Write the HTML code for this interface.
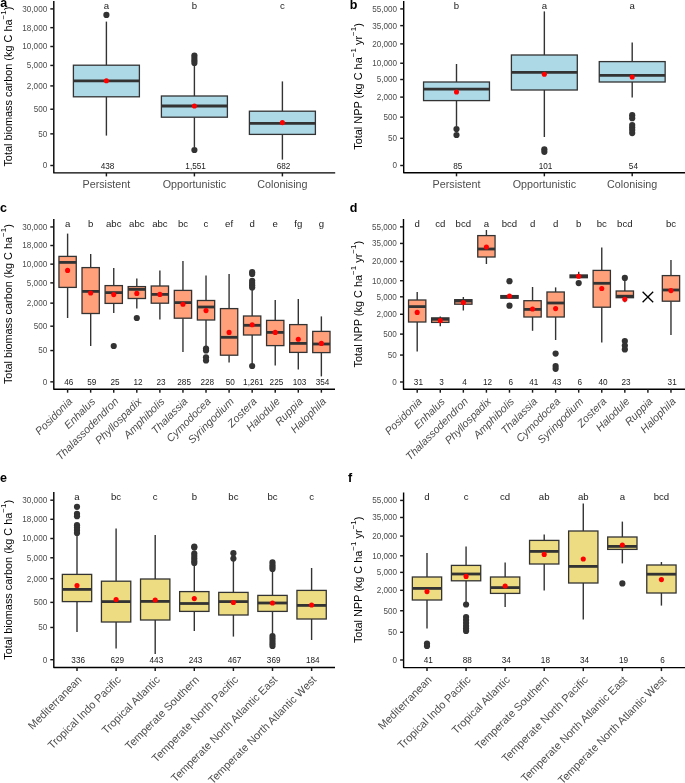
<!DOCTYPE html><html><head><meta charset="utf-8"><style>html,body{margin:0;padding:0;background:#fff;}svg{display:block;will-change:transform;}text{font-family:"Liberation Sans",sans-serif;}</style></head><body><svg width="685" height="783" viewBox="0 0 685 783"><rect width="685" height="783" fill="#fff"/><line x1="106.4" y1="21.6" x2="106.4" y2="65.2" stroke="#333333" stroke-width="1.4"/><line x1="106.4" y1="96.8" x2="106.4" y2="135.6" stroke="#333333" stroke-width="1.4"/><rect x="73.4" y="65.2" width="66" height="31.6" fill="#ADD8E6" stroke="#333333" stroke-width="1.3"/><line x1="73.4" y1="80.9" x2="139.4" y2="80.9" stroke="#333333" stroke-width="2.8"/><circle cx="106.4" cy="14.9" r="3.1" fill="#333333"/><circle cx="106.4" cy="80.8" r="2.55" fill="#FF0000"/><line x1="194.4" y1="66" x2="194.4" y2="96" stroke="#333333" stroke-width="1.4"/><line x1="194.4" y1="117.2" x2="194.4" y2="147" stroke="#333333" stroke-width="1.4"/><rect x="161.4" y="96" width="66" height="21.2" fill="#ADD8E6" stroke="#333333" stroke-width="1.3"/><line x1="161.4" y1="106" x2="227.4" y2="106" stroke="#333333" stroke-width="2.8"/><circle cx="194.4" cy="55.5" r="3.1" fill="#333333"/><circle cx="194.4" cy="58" r="3.1" fill="#333333"/><circle cx="194.4" cy="60.5" r="3.1" fill="#333333"/><circle cx="194.4" cy="62.9" r="3.1" fill="#333333"/><circle cx="194.4" cy="150" r="3.1" fill="#333333"/><circle cx="194.4" cy="106" r="2.55" fill="#FF0000"/><line x1="282.4" y1="81.4" x2="282.4" y2="111.2" stroke="#333333" stroke-width="1.4"/><line x1="282.4" y1="134.4" x2="282.4" y2="159.6" stroke="#333333" stroke-width="1.4"/><rect x="249.4" y="111.2" width="66" height="23.2" fill="#ADD8E6" stroke="#333333" stroke-width="1.3"/><line x1="249.4" y1="123.3" x2="315.4" y2="123.3" stroke="#333333" stroke-width="2.8"/><circle cx="282.4" cy="122.6" r="2.55" fill="#FF0000"/><path d="M53.8 1V172.9H335.2" fill="none" stroke="#000000" stroke-width="1.4" stroke-linejoin="round" stroke-linecap="butt"/><line x1="50.3" y1="165.5" x2="53.8" y2="165.5" stroke="#1a1a1a" stroke-width="1.45"/><text x="47.2" y="168.38" font-size="8.15" fill="#4D4D4D" text-anchor="end">0</text><line x1="50.3" y1="133.86" x2="53.8" y2="133.86" stroke="#1a1a1a" stroke-width="1.45"/><text x="47.2" y="136.73" font-size="8.15" fill="#4D4D4D" text-anchor="end">50</text><line x1="50.3" y1="109.23" x2="53.8" y2="109.23" stroke="#1a1a1a" stroke-width="1.45"/><text x="47.2" y="112.1" font-size="8.15" fill="#4D4D4D" text-anchor="end">500</text><line x1="50.3" y1="85.92" x2="53.8" y2="85.92" stroke="#1a1a1a" stroke-width="1.45"/><text x="47.2" y="88.8" font-size="8.15" fill="#4D4D4D" text-anchor="end">2,000</text><line x1="50.3" y1="65.43" x2="53.8" y2="65.43" stroke="#1a1a1a" stroke-width="1.45"/><text x="47.2" y="68.31" font-size="8.15" fill="#4D4D4D" text-anchor="end">5,000</text><line x1="50.3" y1="46.5" x2="53.8" y2="46.5" stroke="#1a1a1a" stroke-width="1.45"/><text x="47.2" y="49.38" font-size="8.15" fill="#4D4D4D" text-anchor="end">10,000</text><line x1="50.3" y1="27.66" x2="53.8" y2="27.66" stroke="#1a1a1a" stroke-width="1.45"/><text x="47.2" y="30.54" font-size="8.15" fill="#4D4D4D" text-anchor="end">18,000</text><line x1="50.3" y1="8.89" x2="53.8" y2="8.89" stroke="#1a1a1a" stroke-width="1.45"/><text x="47.2" y="11.76" font-size="8.15" fill="#4D4D4D" text-anchor="end">30,000</text><line x1="106.4" y1="172.9" x2="106.4" y2="176.4" stroke="#1a1a1a" stroke-width="1.45"/><line x1="194.4" y1="172.9" x2="194.4" y2="176.4" stroke="#1a1a1a" stroke-width="1.45"/><line x1="282.4" y1="172.9" x2="282.4" y2="176.4" stroke="#1a1a1a" stroke-width="1.45"/><text x="106.4" y="187.8" font-size="10.75" fill="#4D4D4D" text-anchor="middle">Persistent</text><text x="194.4" y="187.8" font-size="10.75" fill="#4D4D4D" text-anchor="middle">Opportunistic</text><text x="282.4" y="187.8" font-size="10.75" fill="#4D4D4D" text-anchor="middle">Colonising</text><text x="106.4" y="8.8" font-size="9.6" fill="#1A1A1A" text-anchor="middle">a</text><text x="194.4" y="8.8" font-size="9.6" fill="#1A1A1A" text-anchor="middle">b</text><text x="282.4" y="8.8" font-size="9.6" fill="#1A1A1A" text-anchor="middle">c</text><text x="107.6" y="168.6" font-size="8.2" fill="#1A1A1A" text-anchor="middle">438</text><text x="195.6" y="168.6" font-size="8.2" fill="#1A1A1A" text-anchor="middle">1,551</text><text x="283.6" y="168.6" font-size="8.2" fill="#1A1A1A" text-anchor="middle">682</text><text transform="translate(11.8 86.6) rotate(-90)" font-size="10.9" fill="#000" text-anchor="middle">Total biomass carbon (kg C ha<tspan font-size="8.1" dy="-5.9">−1</tspan><tspan dy="5.9">)</tspan></text><text x="0.3" y="6.6" font-size="12.5" font-weight="bold" fill="#000">a</text><line x1="456.5" y1="64" x2="456.5" y2="82" stroke="#333333" stroke-width="1.4"/><line x1="456.5" y1="100.6" x2="456.5" y2="126" stroke="#333333" stroke-width="1.4"/><rect x="423.56" y="82" width="65.89" height="18.6" fill="#ADD8E6" stroke="#333333" stroke-width="1.3"/><line x1="423.56" y1="89.2" x2="489.44" y2="89.2" stroke="#333333" stroke-width="2.8"/><circle cx="456.5" cy="129" r="3.1" fill="#333333"/><circle cx="456.5" cy="135" r="3.1" fill="#333333"/><circle cx="456.5" cy="92" r="2.55" fill="#FF0000"/><line x1="544.35" y1="11.4" x2="544.35" y2="55" stroke="#333333" stroke-width="1.4"/><line x1="544.35" y1="90" x2="544.35" y2="137" stroke="#333333" stroke-width="1.4"/><rect x="511.41" y="55" width="65.89" height="35" fill="#ADD8E6" stroke="#333333" stroke-width="1.3"/><line x1="511.41" y1="72.4" x2="577.29" y2="72.4" stroke="#333333" stroke-width="2.8"/><circle cx="544.35" cy="149.3" r="3.1" fill="#333333"/><circle cx="544.35" cy="151.8" r="3.1" fill="#333333"/><circle cx="544.35" cy="74.2" r="2.55" fill="#FF0000"/><line x1="632.2" y1="42.4" x2="632.2" y2="61.6" stroke="#333333" stroke-width="1.4"/><line x1="632.2" y1="82" x2="632.2" y2="97.6" stroke="#333333" stroke-width="1.4"/><rect x="599.26" y="61.6" width="65.89" height="20.4" fill="#ADD8E6" stroke="#333333" stroke-width="1.3"/><line x1="599.26" y1="75.4" x2="665.14" y2="75.4" stroke="#333333" stroke-width="2.8"/><circle cx="632.2" cy="115.2" r="3.1" fill="#333333"/><circle cx="632.2" cy="118.2" r="3.1" fill="#333333"/><circle cx="632.2" cy="125" r="3.1" fill="#333333"/><circle cx="632.2" cy="127.5" r="3.1" fill="#333333"/><circle cx="632.2" cy="130" r="3.1" fill="#333333"/><circle cx="632.2" cy="133.1" r="3.1" fill="#333333"/><circle cx="632.2" cy="77" r="2.55" fill="#FF0000"/><path d="M403.7 1V172.8H685" fill="none" stroke="#000000" stroke-width="1.4" stroke-linejoin="round" stroke-linecap="butt"/><line x1="400.2" y1="165.5" x2="403.7" y2="165.5" stroke="#1a1a1a" stroke-width="1.45"/><text x="397.1" y="168.38" font-size="8.15" fill="#4D4D4D" text-anchor="end">0</text><line x1="400.2" y1="138.31" x2="403.7" y2="138.31" stroke="#1a1a1a" stroke-width="1.45"/><text x="397.1" y="141.18" font-size="8.15" fill="#4D4D4D" text-anchor="end">50</text><line x1="400.2" y1="117.14" x2="403.7" y2="117.14" stroke="#1a1a1a" stroke-width="1.45"/><text x="397.1" y="120.02" font-size="8.15" fill="#4D4D4D" text-anchor="end">500</text><line x1="400.2" y1="97.11" x2="403.7" y2="97.11" stroke="#1a1a1a" stroke-width="1.45"/><text x="397.1" y="99.99" font-size="8.15" fill="#4D4D4D" text-anchor="end">2,000</text><line x1="400.2" y1="79.51" x2="403.7" y2="79.51" stroke="#1a1a1a" stroke-width="1.45"/><text x="397.1" y="82.39" font-size="8.15" fill="#4D4D4D" text-anchor="end">5,000</text><line x1="400.2" y1="63.24" x2="403.7" y2="63.24" stroke="#1a1a1a" stroke-width="1.45"/><text x="397.1" y="66.12" font-size="8.15" fill="#4D4D4D" text-anchor="end">10,000</text><line x1="400.2" y1="43.89" x2="403.7" y2="43.89" stroke="#1a1a1a" stroke-width="1.45"/><text x="397.1" y="46.77" font-size="8.15" fill="#4D4D4D" text-anchor="end">20,000</text><line x1="400.2" y1="25.63" x2="403.7" y2="25.63" stroke="#1a1a1a" stroke-width="1.45"/><text x="397.1" y="28.51" font-size="8.15" fill="#4D4D4D" text-anchor="end">35,000</text><line x1="400.2" y1="8.9" x2="403.7" y2="8.9" stroke="#1a1a1a" stroke-width="1.45"/><text x="397.1" y="11.77" font-size="8.15" fill="#4D4D4D" text-anchor="end">55,000</text><line x1="456.5" y1="172.8" x2="456.5" y2="176.3" stroke="#1a1a1a" stroke-width="1.45"/><line x1="544.35" y1="172.8" x2="544.35" y2="176.3" stroke="#1a1a1a" stroke-width="1.45"/><line x1="632.2" y1="172.8" x2="632.2" y2="176.3" stroke="#1a1a1a" stroke-width="1.45"/><text x="456.5" y="187.7" font-size="10.75" fill="#4D4D4D" text-anchor="middle">Persistent</text><text x="544.35" y="187.7" font-size="10.75" fill="#4D4D4D" text-anchor="middle">Opportunistic</text><text x="632.2" y="187.7" font-size="10.75" fill="#4D4D4D" text-anchor="middle">Colonising</text><text x="456.5" y="8.8" font-size="9.6" fill="#1A1A1A" text-anchor="middle">b</text><text x="544.35" y="8.8" font-size="9.6" fill="#1A1A1A" text-anchor="middle">a</text><text x="632.2" y="8.8" font-size="9.6" fill="#1A1A1A" text-anchor="middle">a</text><text x="457.7" y="168.6" font-size="8.2" fill="#1A1A1A" text-anchor="middle">85</text><text x="545.55" y="168.6" font-size="8.2" fill="#1A1A1A" text-anchor="middle">101</text><text x="633.4" y="168.6" font-size="8.2" fill="#1A1A1A" text-anchor="middle">54</text><text transform="translate(361.5 86.4) rotate(-90)" font-size="10.9" fill="#000" text-anchor="middle">Total NPP (kg C ha<tspan font-size="8.1" dy="-5.9">−1</tspan><tspan dy="5.9"> yr</tspan><tspan font-size="8.1" dy="-5.9">−1</tspan><tspan dy="5.9">)</tspan></text><text x="349.8" y="8.8" font-size="12.5" font-weight="bold" fill="#000">b</text><line x1="67.6" y1="233.6" x2="67.6" y2="256.4" stroke="#333333" stroke-width="1.4"/><line x1="67.6" y1="287.4" x2="67.6" y2="318" stroke="#333333" stroke-width="1.4"/><rect x="58.95" y="256.4" width="17.3" height="31" fill="#FFA07A" stroke="#333333" stroke-width="1.3"/><line x1="58.95" y1="262.4" x2="76.25" y2="262.4" stroke="#333333" stroke-width="2.8"/><circle cx="67.6" cy="270.4" r="2.55" fill="#FF0000"/><line x1="90.67" y1="254" x2="90.67" y2="267.6" stroke="#333333" stroke-width="1.4"/><line x1="90.67" y1="313.5" x2="90.67" y2="346" stroke="#333333" stroke-width="1.4"/><rect x="82.02" y="267.6" width="17.3" height="45.9" fill="#FFA07A" stroke="#333333" stroke-width="1.3"/><line x1="82.02" y1="291.4" x2="99.32" y2="291.4" stroke="#333333" stroke-width="2.8"/><circle cx="90.67" cy="293" r="2.55" fill="#FF0000"/><line x1="113.74" y1="268" x2="113.74" y2="285.6" stroke="#333333" stroke-width="1.4"/><line x1="113.74" y1="303.4" x2="113.74" y2="313" stroke="#333333" stroke-width="1.4"/><rect x="105.09" y="285.6" width="17.3" height="17.8" fill="#FFA07A" stroke="#333333" stroke-width="1.3"/><line x1="105.09" y1="292.6" x2="122.39" y2="292.6" stroke="#333333" stroke-width="2.8"/><circle cx="113.74" cy="346" r="3.1" fill="#333333"/><circle cx="113.74" cy="294.6" r="2.55" fill="#FF0000"/><line x1="136.81" y1="278.6" x2="136.81" y2="286.6" stroke="#333333" stroke-width="1.4"/><line x1="136.81" y1="298.5" x2="136.81" y2="308.5" stroke="#333333" stroke-width="1.4"/><rect x="128.16" y="286.6" width="17.3" height="11.9" fill="#FFA07A" stroke="#333333" stroke-width="1.3"/><line x1="128.16" y1="289.4" x2="145.46" y2="289.4" stroke="#333333" stroke-width="2.8"/><circle cx="136.81" cy="318" r="3.1" fill="#333333"/><circle cx="136.81" cy="293.4" r="2.55" fill="#FF0000"/><line x1="159.88" y1="270.4" x2="159.88" y2="286" stroke="#333333" stroke-width="1.4"/><line x1="159.88" y1="303.2" x2="159.88" y2="319.6" stroke="#333333" stroke-width="1.4"/><rect x="151.23" y="286" width="17.3" height="17.2" fill="#FFA07A" stroke="#333333" stroke-width="1.3"/><line x1="151.23" y1="294.4" x2="168.53" y2="294.4" stroke="#333333" stroke-width="2.8"/><circle cx="159.88" cy="294.4" r="2.55" fill="#FF0000"/><line x1="182.95" y1="261" x2="182.95" y2="290.4" stroke="#333333" stroke-width="1.4"/><line x1="182.95" y1="318.2" x2="182.95" y2="352" stroke="#333333" stroke-width="1.4"/><rect x="174.3" y="290.4" width="17.3" height="27.8" fill="#FFA07A" stroke="#333333" stroke-width="1.3"/><line x1="174.3" y1="302.6" x2="191.6" y2="302.6" stroke="#333333" stroke-width="2.8"/><circle cx="182.95" cy="304.2" r="2.55" fill="#FF0000"/><line x1="206.02" y1="275.6" x2="206.02" y2="300.5" stroke="#333333" stroke-width="1.4"/><line x1="206.02" y1="320" x2="206.02" y2="346" stroke="#333333" stroke-width="1.4"/><rect x="197.37" y="300.5" width="17.3" height="19.5" fill="#FFA07A" stroke="#333333" stroke-width="1.3"/><line x1="197.37" y1="307" x2="214.67" y2="307" stroke="#333333" stroke-width="2.8"/><circle cx="206.02" cy="348.6" r="3.1" fill="#333333"/><circle cx="206.02" cy="350.4" r="3.1" fill="#333333"/><circle cx="206.02" cy="357.3" r="3.1" fill="#333333"/><circle cx="206.02" cy="360.5" r="3.1" fill="#333333"/><circle cx="206.02" cy="310.6" r="2.55" fill="#FF0000"/><line x1="229.09" y1="274" x2="229.09" y2="308.6" stroke="#333333" stroke-width="1.4"/><line x1="229.09" y1="355.2" x2="229.09" y2="362.5" stroke="#333333" stroke-width="1.4"/><rect x="220.44" y="308.6" width="17.3" height="46.6" fill="#FFA07A" stroke="#333333" stroke-width="1.3"/><line x1="220.44" y1="337.3" x2="237.74" y2="337.3" stroke="#333333" stroke-width="2.8"/><circle cx="229.09" cy="332.4" r="2.55" fill="#FF0000"/><line x1="252.16" y1="288" x2="252.16" y2="316" stroke="#333333" stroke-width="1.4"/><line x1="252.16" y1="335" x2="252.16" y2="364" stroke="#333333" stroke-width="1.4"/><rect x="243.51" y="316" width="17.3" height="19" fill="#FFA07A" stroke="#333333" stroke-width="1.3"/><line x1="243.51" y1="325.3" x2="260.81" y2="325.3" stroke="#333333" stroke-width="2.8"/><circle cx="252.16" cy="272.2" r="3.1" fill="#333333"/><circle cx="252.16" cy="274" r="3.1" fill="#333333"/><circle cx="252.16" cy="280.8" r="3.1" fill="#333333"/><circle cx="252.16" cy="283" r="3.1" fill="#333333"/><circle cx="252.16" cy="285.2" r="3.1" fill="#333333"/><circle cx="252.16" cy="287.4" r="3.1" fill="#333333"/><circle cx="252.16" cy="366" r="3.1" fill="#333333"/><circle cx="252.16" cy="324.8" r="2.55" fill="#FF0000"/><line x1="275.23" y1="300" x2="275.23" y2="320.4" stroke="#333333" stroke-width="1.4"/><line x1="275.23" y1="345.6" x2="275.23" y2="365.6" stroke="#333333" stroke-width="1.4"/><rect x="266.58" y="320.4" width="17.3" height="25.2" fill="#FFA07A" stroke="#333333" stroke-width="1.3"/><line x1="266.58" y1="332.4" x2="283.88" y2="332.4" stroke="#333333" stroke-width="2.8"/><circle cx="275.23" cy="332.4" r="2.55" fill="#FF0000"/><line x1="298.3" y1="299" x2="298.3" y2="324.6" stroke="#333333" stroke-width="1.4"/><line x1="298.3" y1="352.4" x2="298.3" y2="369.6" stroke="#333333" stroke-width="1.4"/><rect x="289.65" y="324.6" width="17.3" height="27.8" fill="#FFA07A" stroke="#333333" stroke-width="1.3"/><line x1="289.65" y1="343.4" x2="306.95" y2="343.4" stroke="#333333" stroke-width="2.8"/><circle cx="298.3" cy="339.2" r="2.55" fill="#FF0000"/><line x1="321.37" y1="316.4" x2="321.37" y2="331.4" stroke="#333333" stroke-width="1.4"/><line x1="321.37" y1="352.6" x2="321.37" y2="376.4" stroke="#333333" stroke-width="1.4"/><rect x="312.72" y="331.4" width="17.3" height="21.2" fill="#FFA07A" stroke="#333333" stroke-width="1.3"/><line x1="312.72" y1="344" x2="330.02" y2="344" stroke="#333333" stroke-width="2.8"/><circle cx="321.37" cy="343.4" r="2.55" fill="#FF0000"/><path d="M53.8 219V389.2H335" fill="none" stroke="#000000" stroke-width="1.4" stroke-linejoin="round" stroke-linecap="butt"/><line x1="50.3" y1="381.85" x2="53.8" y2="381.85" stroke="#1a1a1a" stroke-width="1.45"/><text x="47.2" y="384.73" font-size="8.15" fill="#4D4D4D" text-anchor="end">0</text><line x1="50.3" y1="350.55" x2="53.8" y2="350.55" stroke="#1a1a1a" stroke-width="1.45"/><text x="47.2" y="353.43" font-size="8.15" fill="#4D4D4D" text-anchor="end">50</text><line x1="50.3" y1="326.19" x2="53.8" y2="326.19" stroke="#1a1a1a" stroke-width="1.45"/><text x="47.2" y="329.07" font-size="8.15" fill="#4D4D4D" text-anchor="end">500</text><line x1="50.3" y1="303.14" x2="53.8" y2="303.14" stroke="#1a1a1a" stroke-width="1.45"/><text x="47.2" y="306.01" font-size="8.15" fill="#4D4D4D" text-anchor="end">2,000</text><line x1="50.3" y1="282.88" x2="53.8" y2="282.88" stroke="#1a1a1a" stroke-width="1.45"/><text x="47.2" y="285.75" font-size="8.15" fill="#4D4D4D" text-anchor="end">5,000</text><line x1="50.3" y1="264.15" x2="53.8" y2="264.15" stroke="#1a1a1a" stroke-width="1.45"/><text x="47.2" y="267.03" font-size="8.15" fill="#4D4D4D" text-anchor="end">10,000</text><line x1="50.3" y1="245.52" x2="53.8" y2="245.52" stroke="#1a1a1a" stroke-width="1.45"/><text x="47.2" y="248.39" font-size="8.15" fill="#4D4D4D" text-anchor="end">18,000</text><line x1="50.3" y1="226.95" x2="53.8" y2="226.95" stroke="#1a1a1a" stroke-width="1.45"/><text x="47.2" y="229.82" font-size="8.15" fill="#4D4D4D" text-anchor="end">30,000</text><line x1="67.6" y1="389.2" x2="67.6" y2="392.7" stroke="#1a1a1a" stroke-width="1.45"/><line x1="90.67" y1="389.2" x2="90.67" y2="392.7" stroke="#1a1a1a" stroke-width="1.45"/><line x1="113.74" y1="389.2" x2="113.74" y2="392.7" stroke="#1a1a1a" stroke-width="1.45"/><line x1="136.81" y1="389.2" x2="136.81" y2="392.7" stroke="#1a1a1a" stroke-width="1.45"/><line x1="159.88" y1="389.2" x2="159.88" y2="392.7" stroke="#1a1a1a" stroke-width="1.45"/><line x1="182.95" y1="389.2" x2="182.95" y2="392.7" stroke="#1a1a1a" stroke-width="1.45"/><line x1="206.02" y1="389.2" x2="206.02" y2="392.7" stroke="#1a1a1a" stroke-width="1.45"/><line x1="229.09" y1="389.2" x2="229.09" y2="392.7" stroke="#1a1a1a" stroke-width="1.45"/><line x1="252.16" y1="389.2" x2="252.16" y2="392.7" stroke="#1a1a1a" stroke-width="1.45"/><line x1="275.23" y1="389.2" x2="275.23" y2="392.7" stroke="#1a1a1a" stroke-width="1.45"/><line x1="298.3" y1="389.2" x2="298.3" y2="392.7" stroke="#1a1a1a" stroke-width="1.45"/><line x1="321.37" y1="389.2" x2="321.37" y2="392.7" stroke="#1a1a1a" stroke-width="1.45"/><text transform="translate(73 402.1) rotate(-45)" font-size="10.75" fill="#4D4D4D" text-anchor="end" font-style="italic">Posidonia</text><text transform="translate(96.07 402.1) rotate(-45)" font-size="10.75" fill="#4D4D4D" text-anchor="end" font-style="italic">Enhalus</text><text transform="translate(119.14 402.1) rotate(-45)" font-size="10.75" fill="#4D4D4D" text-anchor="end" font-style="italic">Thalassodendron</text><text transform="translate(142.21 402.1) rotate(-45)" font-size="10.75" fill="#4D4D4D" text-anchor="end" font-style="italic">Phyllospadix</text><text transform="translate(165.28 402.1) rotate(-45)" font-size="10.75" fill="#4D4D4D" text-anchor="end" font-style="italic">Amphibolis</text><text transform="translate(188.35 402.1) rotate(-45)" font-size="10.75" fill="#4D4D4D" text-anchor="end" font-style="italic">Thalassia</text><text transform="translate(211.42 402.1) rotate(-45)" font-size="10.75" fill="#4D4D4D" text-anchor="end" font-style="italic">Cymodocea</text><text transform="translate(234.49 402.1) rotate(-45)" font-size="10.75" fill="#4D4D4D" text-anchor="end" font-style="italic">Syringodium</text><text transform="translate(257.56 402.1) rotate(-45)" font-size="10.75" fill="#4D4D4D" text-anchor="end" font-style="italic">Zostera</text><text transform="translate(280.63 402.1) rotate(-45)" font-size="10.75" fill="#4D4D4D" text-anchor="end" font-style="italic">Halodule</text><text transform="translate(303.7 402.1) rotate(-45)" font-size="10.75" fill="#4D4D4D" text-anchor="end" font-style="italic">Ruppia</text><text transform="translate(326.77 402.1) rotate(-45)" font-size="10.75" fill="#4D4D4D" text-anchor="end" font-style="italic">Halophila</text><text x="67.6" y="227" font-size="9.6" fill="#1A1A1A" text-anchor="middle">a</text><text x="90.67" y="227" font-size="9.6" fill="#1A1A1A" text-anchor="middle">b</text><text x="113.74" y="227" font-size="9.6" fill="#1A1A1A" text-anchor="middle">abc</text><text x="136.81" y="227" font-size="9.6" fill="#1A1A1A" text-anchor="middle">abc</text><text x="159.88" y="227" font-size="9.6" fill="#1A1A1A" text-anchor="middle">abc</text><text x="182.95" y="227" font-size="9.6" fill="#1A1A1A" text-anchor="middle">bc</text><text x="206.02" y="227" font-size="9.6" fill="#1A1A1A" text-anchor="middle">c</text><text x="229.09" y="227" font-size="9.6" fill="#1A1A1A" text-anchor="middle">ef</text><text x="252.16" y="227" font-size="9.6" fill="#1A1A1A" text-anchor="middle">d</text><text x="275.23" y="227" font-size="9.6" fill="#1A1A1A" text-anchor="middle">e</text><text x="298.3" y="227" font-size="9.6" fill="#1A1A1A" text-anchor="middle">fg</text><text x="321.37" y="227" font-size="9.6" fill="#1A1A1A" text-anchor="middle">g</text><text x="68.8" y="385.1" font-size="8.2" fill="#1A1A1A" text-anchor="middle">46</text><text x="91.87" y="385.1" font-size="8.2" fill="#1A1A1A" text-anchor="middle">59</text><text x="114.94" y="385.1" font-size="8.2" fill="#1A1A1A" text-anchor="middle">25</text><text x="138.01" y="385.1" font-size="8.2" fill="#1A1A1A" text-anchor="middle">12</text><text x="161.08" y="385.1" font-size="8.2" fill="#1A1A1A" text-anchor="middle">23</text><text x="184.15" y="385.1" font-size="8.2" fill="#1A1A1A" text-anchor="middle">285</text><text x="207.22" y="385.1" font-size="8.2" fill="#1A1A1A" text-anchor="middle">228</text><text x="230.29" y="385.1" font-size="8.2" fill="#1A1A1A" text-anchor="middle">50</text><text x="253.36" y="385.1" font-size="8.2" fill="#1A1A1A" text-anchor="middle">1,261</text><text x="276.43" y="385.1" font-size="8.2" fill="#1A1A1A" text-anchor="middle">225</text><text x="299.5" y="385.1" font-size="8.2" fill="#1A1A1A" text-anchor="middle">103</text><text x="322.57" y="385.1" font-size="8.2" fill="#1A1A1A" text-anchor="middle">354</text><text transform="translate(11.8 304.1) rotate(-90)" font-size="10.9" fill="#000" text-anchor="middle">Total biomass carbon (kg C ha<tspan font-size="8.1" dy="-5.9">−1</tspan><tspan dy="5.9">)</tspan></text><text x="0" y="212.4" font-size="12.5" font-weight="bold" fill="#000">c</text><line x1="417.2" y1="292" x2="417.2" y2="300" stroke="#333333" stroke-width="1.4"/><line x1="417.2" y1="322" x2="417.2" y2="351.6" stroke="#333333" stroke-width="1.4"/><rect x="408.55" y="300" width="17.3" height="22" fill="#FFA07A" stroke="#333333" stroke-width="1.3"/><line x1="408.55" y1="306.6" x2="425.85" y2="306.6" stroke="#333333" stroke-width="2.8"/><circle cx="417.2" cy="312.4" r="2.55" fill="#FF0000"/><line x1="440.27" y1="316.4" x2="440.27" y2="317.9" stroke="#333333" stroke-width="1.4"/><line x1="440.27" y1="322.4" x2="440.27" y2="326.2" stroke="#333333" stroke-width="1.4"/><rect x="431.62" y="317.9" width="17.3" height="4.5" fill="#FFA07A" stroke="#333333" stroke-width="1.3"/><line x1="431.62" y1="319.3" x2="448.92" y2="319.3" stroke="#333333" stroke-width="2.8"/><circle cx="440.27" cy="320.6" r="2.55" fill="#FF0000"/><line x1="463.34" y1="297" x2="463.34" y2="299.7" stroke="#333333" stroke-width="1.4"/><line x1="463.34" y1="304.2" x2="463.34" y2="310.5" stroke="#333333" stroke-width="1.4"/><rect x="454.69" y="299.7" width="17.3" height="4.5" fill="#FFA07A" stroke="#333333" stroke-width="1.3"/><line x1="454.69" y1="301" x2="471.99" y2="301" stroke="#333333" stroke-width="2.8"/><circle cx="463.34" cy="302.5" r="2.55" fill="#FF0000"/><line x1="486.41" y1="230" x2="486.41" y2="235.6" stroke="#333333" stroke-width="1.4"/><line x1="486.41" y1="257" x2="486.41" y2="264" stroke="#333333" stroke-width="1.4"/><rect x="477.76" y="235.6" width="17.3" height="21.4" fill="#FFA07A" stroke="#333333" stroke-width="1.3"/><line x1="477.76" y1="249" x2="495.06" y2="249" stroke="#333333" stroke-width="2.8"/><circle cx="486.41" cy="247" r="2.55" fill="#FF0000"/><line x1="509.48" y1="295.6" x2="509.48" y2="295.6" stroke="#333333" stroke-width="1.4"/><line x1="509.48" y1="298.2" x2="509.48" y2="298.2" stroke="#333333" stroke-width="1.4"/><rect x="500.83" y="295.6" width="17.3" height="2.6" fill="#FFA07A" stroke="#333333" stroke-width="1.3"/><line x1="500.83" y1="296.9" x2="518.13" y2="296.9" stroke="#333333" stroke-width="2.8"/><circle cx="509.48" cy="281.2" r="3.1" fill="#333333"/><circle cx="509.48" cy="305.7" r="3.1" fill="#333333"/><circle cx="509.48" cy="296" r="2.55" fill="#FF0000"/><line x1="532.55" y1="287" x2="532.55" y2="300.7" stroke="#333333" stroke-width="1.4"/><line x1="532.55" y1="317" x2="532.55" y2="330.8" stroke="#333333" stroke-width="1.4"/><rect x="523.9" y="300.7" width="17.3" height="16.3" fill="#FFA07A" stroke="#333333" stroke-width="1.3"/><line x1="523.9" y1="309.4" x2="541.2" y2="309.4" stroke="#333333" stroke-width="2.8"/><circle cx="532.55" cy="309" r="2.55" fill="#FF0000"/><line x1="555.62" y1="287.4" x2="555.62" y2="292" stroke="#333333" stroke-width="1.4"/><line x1="555.62" y1="317" x2="555.62" y2="340" stroke="#333333" stroke-width="1.4"/><rect x="546.97" y="292" width="17.3" height="25" fill="#FFA07A" stroke="#333333" stroke-width="1.3"/><line x1="546.97" y1="303" x2="564.27" y2="303" stroke="#333333" stroke-width="2.8"/><circle cx="555.62" cy="353.6" r="3.1" fill="#333333"/><circle cx="555.62" cy="366" r="3.1" fill="#333333"/><circle cx="555.62" cy="368.8" r="3.1" fill="#333333"/><circle cx="555.62" cy="308.6" r="2.55" fill="#FF0000"/><line x1="578.69" y1="271.8" x2="578.69" y2="275" stroke="#333333" stroke-width="1.4"/><line x1="578.69" y1="277.7" x2="578.69" y2="277.7" stroke="#333333" stroke-width="1.4"/><rect x="570.04" y="275" width="17.3" height="2.7" fill="#FFA07A" stroke="#333333" stroke-width="1.3"/><line x1="570.04" y1="276.3" x2="587.34" y2="276.3" stroke="#333333" stroke-width="2.8"/><circle cx="578.69" cy="283.1" r="3.1" fill="#333333"/><circle cx="578.69" cy="276.3" r="2.55" fill="#FF0000"/><line x1="601.76" y1="247.6" x2="601.76" y2="270.4" stroke="#333333" stroke-width="1.4"/><line x1="601.76" y1="307.2" x2="601.76" y2="342.6" stroke="#333333" stroke-width="1.4"/><rect x="593.11" y="270.4" width="17.3" height="36.8" fill="#FFA07A" stroke="#333333" stroke-width="1.3"/><line x1="593.11" y1="283.3" x2="610.41" y2="283.3" stroke="#333333" stroke-width="2.8"/><circle cx="601.76" cy="288.5" r="2.55" fill="#FF0000"/><line x1="624.83" y1="280" x2="624.83" y2="291" stroke="#333333" stroke-width="1.4"/><line x1="624.83" y1="297.7" x2="624.83" y2="302.2" stroke="#333333" stroke-width="1.4"/><rect x="616.18" y="291" width="17.3" height="6.7" fill="#FFA07A" stroke="#333333" stroke-width="1.3"/><line x1="616.18" y1="296.2" x2="633.48" y2="296.2" stroke="#333333" stroke-width="2.8"/><circle cx="624.83" cy="277.9" r="3.1" fill="#333333"/><circle cx="624.83" cy="341" r="3.1" fill="#333333"/><circle cx="624.83" cy="345.5" r="3.1" fill="#333333"/><circle cx="624.83" cy="349.4" r="3.1" fill="#333333"/><circle cx="624.83" cy="299.3" r="2.55" fill="#FF0000"/><line x1="670.97" y1="260" x2="670.97" y2="275.6" stroke="#333333" stroke-width="1.4"/><line x1="670.97" y1="301.2" x2="670.97" y2="335" stroke="#333333" stroke-width="1.4"/><rect x="662.32" y="275.6" width="17.3" height="25.6" fill="#FFA07A" stroke="#333333" stroke-width="1.3"/><line x1="662.32" y1="290" x2="679.62" y2="290" stroke="#333333" stroke-width="2.8"/><circle cx="670.97" cy="290.6" r="2.55" fill="#FF0000"/><path d="M642.6 291.7L653.2 302.3M642.6 302.3L653.2 291.7" stroke="#000" stroke-width="1.3" fill="none"/><path d="M403.5 219V389.2H685" fill="none" stroke="#000000" stroke-width="1.4" stroke-linejoin="round" stroke-linecap="butt"/><line x1="400" y1="382" x2="403.5" y2="382" stroke="#1a1a1a" stroke-width="1.45"/><text x="396.9" y="384.88" font-size="8.15" fill="#4D4D4D" text-anchor="end">0</text><line x1="400" y1="355.06" x2="403.5" y2="355.06" stroke="#1a1a1a" stroke-width="1.45"/><text x="396.9" y="357.94" font-size="8.15" fill="#4D4D4D" text-anchor="end">50</text><line x1="400" y1="334.1" x2="403.5" y2="334.1" stroke="#1a1a1a" stroke-width="1.45"/><text x="396.9" y="336.97" font-size="8.15" fill="#4D4D4D" text-anchor="end">500</text><line x1="400" y1="314.26" x2="403.5" y2="314.26" stroke="#1a1a1a" stroke-width="1.45"/><text x="396.9" y="317.13" font-size="8.15" fill="#4D4D4D" text-anchor="end">2,000</text><line x1="400" y1="296.82" x2="403.5" y2="296.82" stroke="#1a1a1a" stroke-width="1.45"/><text x="396.9" y="299.69" font-size="8.15" fill="#4D4D4D" text-anchor="end">5,000</text><line x1="400" y1="280.7" x2="403.5" y2="280.7" stroke="#1a1a1a" stroke-width="1.45"/><text x="396.9" y="283.58" font-size="8.15" fill="#4D4D4D" text-anchor="end">10,000</text><line x1="400" y1="261.53" x2="403.5" y2="261.53" stroke="#1a1a1a" stroke-width="1.45"/><text x="396.9" y="264.41" font-size="8.15" fill="#4D4D4D" text-anchor="end">20,000</text><line x1="400" y1="243.44" x2="403.5" y2="243.44" stroke="#1a1a1a" stroke-width="1.45"/><text x="396.9" y="246.32" font-size="8.15" fill="#4D4D4D" text-anchor="end">35,000</text><line x1="400" y1="226.87" x2="403.5" y2="226.87" stroke="#1a1a1a" stroke-width="1.45"/><text x="396.9" y="229.74" font-size="8.15" fill="#4D4D4D" text-anchor="end">55,000</text><line x1="417.2" y1="389.2" x2="417.2" y2="392.7" stroke="#1a1a1a" stroke-width="1.45"/><line x1="440.27" y1="389.2" x2="440.27" y2="392.7" stroke="#1a1a1a" stroke-width="1.45"/><line x1="463.34" y1="389.2" x2="463.34" y2="392.7" stroke="#1a1a1a" stroke-width="1.45"/><line x1="486.41" y1="389.2" x2="486.41" y2="392.7" stroke="#1a1a1a" stroke-width="1.45"/><line x1="509.48" y1="389.2" x2="509.48" y2="392.7" stroke="#1a1a1a" stroke-width="1.45"/><line x1="532.55" y1="389.2" x2="532.55" y2="392.7" stroke="#1a1a1a" stroke-width="1.45"/><line x1="555.62" y1="389.2" x2="555.62" y2="392.7" stroke="#1a1a1a" stroke-width="1.45"/><line x1="578.69" y1="389.2" x2="578.69" y2="392.7" stroke="#1a1a1a" stroke-width="1.45"/><line x1="601.76" y1="389.2" x2="601.76" y2="392.7" stroke="#1a1a1a" stroke-width="1.45"/><line x1="624.83" y1="389.2" x2="624.83" y2="392.7" stroke="#1a1a1a" stroke-width="1.45"/><line x1="647.9" y1="389.2" x2="647.9" y2="392.7" stroke="#1a1a1a" stroke-width="1.45"/><line x1="670.97" y1="389.2" x2="670.97" y2="392.7" stroke="#1a1a1a" stroke-width="1.45"/><text transform="translate(422.6 402.1) rotate(-45)" font-size="10.75" fill="#4D4D4D" text-anchor="end" font-style="italic">Posidonia</text><text transform="translate(445.67 402.1) rotate(-45)" font-size="10.75" fill="#4D4D4D" text-anchor="end" font-style="italic">Enhalus</text><text transform="translate(468.74 402.1) rotate(-45)" font-size="10.75" fill="#4D4D4D" text-anchor="end" font-style="italic">Thalassodendron</text><text transform="translate(491.81 402.1) rotate(-45)" font-size="10.75" fill="#4D4D4D" text-anchor="end" font-style="italic">Phyllospadix</text><text transform="translate(514.88 402.1) rotate(-45)" font-size="10.75" fill="#4D4D4D" text-anchor="end" font-style="italic">Amphibolis</text><text transform="translate(537.95 402.1) rotate(-45)" font-size="10.75" fill="#4D4D4D" text-anchor="end" font-style="italic">Thalassia</text><text transform="translate(561.02 402.1) rotate(-45)" font-size="10.75" fill="#4D4D4D" text-anchor="end" font-style="italic">Cymodocea</text><text transform="translate(584.09 402.1) rotate(-45)" font-size="10.75" fill="#4D4D4D" text-anchor="end" font-style="italic">Syringodium</text><text transform="translate(607.16 402.1) rotate(-45)" font-size="10.75" fill="#4D4D4D" text-anchor="end" font-style="italic">Zostera</text><text transform="translate(630.23 402.1) rotate(-45)" font-size="10.75" fill="#4D4D4D" text-anchor="end" font-style="italic">Halodule</text><text transform="translate(653.3 402.1) rotate(-45)" font-size="10.75" fill="#4D4D4D" text-anchor="end" font-style="italic">Ruppia</text><text transform="translate(676.37 402.1) rotate(-45)" font-size="10.75" fill="#4D4D4D" text-anchor="end" font-style="italic">Halophila</text><text x="417.2" y="227" font-size="9.6" fill="#1A1A1A" text-anchor="middle">d</text><text x="440.27" y="227" font-size="9.6" fill="#1A1A1A" text-anchor="middle">cd</text><text x="463.34" y="227" font-size="9.6" fill="#1A1A1A" text-anchor="middle">bcd</text><text x="486.41" y="227" font-size="9.6" fill="#1A1A1A" text-anchor="middle">a</text><text x="509.48" y="227" font-size="9.6" fill="#1A1A1A" text-anchor="middle">bcd</text><text x="532.55" y="227" font-size="9.6" fill="#1A1A1A" text-anchor="middle">d</text><text x="555.62" y="227" font-size="9.6" fill="#1A1A1A" text-anchor="middle">d</text><text x="578.69" y="227" font-size="9.6" fill="#1A1A1A" text-anchor="middle">b</text><text x="601.76" y="227" font-size="9.6" fill="#1A1A1A" text-anchor="middle">bc</text><text x="624.83" y="227" font-size="9.6" fill="#1A1A1A" text-anchor="middle">bcd</text><text x="670.97" y="227" font-size="9.6" fill="#1A1A1A" text-anchor="middle">bc</text><text x="418.4" y="385.1" font-size="8.2" fill="#1A1A1A" text-anchor="middle">31</text><text x="441.47" y="385.1" font-size="8.2" fill="#1A1A1A" text-anchor="middle">3</text><text x="464.54" y="385.1" font-size="8.2" fill="#1A1A1A" text-anchor="middle">4</text><text x="487.61" y="385.1" font-size="8.2" fill="#1A1A1A" text-anchor="middle">12</text><text x="510.68" y="385.1" font-size="8.2" fill="#1A1A1A" text-anchor="middle">6</text><text x="533.75" y="385.1" font-size="8.2" fill="#1A1A1A" text-anchor="middle">41</text><text x="556.82" y="385.1" font-size="8.2" fill="#1A1A1A" text-anchor="middle">43</text><text x="579.89" y="385.1" font-size="8.2" fill="#1A1A1A" text-anchor="middle">6</text><text x="602.96" y="385.1" font-size="8.2" fill="#1A1A1A" text-anchor="middle">40</text><text x="626.03" y="385.1" font-size="8.2" fill="#1A1A1A" text-anchor="middle">23</text><text x="672.17" y="385.1" font-size="8.2" fill="#1A1A1A" text-anchor="middle">31</text><text transform="translate(361.5 304.1) rotate(-90)" font-size="10.9" fill="#000" text-anchor="middle">Total NPP (kg C ha<tspan font-size="8.1" dy="-5.9">−1</tspan><tspan dy="5.9"> yr</tspan><tspan font-size="8.1" dy="-5.9">−1</tspan><tspan dy="5.9">)</tspan></text><text x="349.8" y="212.4" font-size="12.5" font-weight="bold" fill="#000">d</text><line x1="77" y1="536" x2="77" y2="574.4" stroke="#333333" stroke-width="1.4"/><line x1="77" y1="601.6" x2="77" y2="632" stroke="#333333" stroke-width="1.4"/><rect x="62.34" y="574.4" width="29.33" height="27.2" fill="#EEDC82" stroke="#333333" stroke-width="1.3"/><line x1="62.34" y1="589.4" x2="91.66" y2="589.4" stroke="#333333" stroke-width="2.8"/><circle cx="77" cy="506.8" r="3.1" fill="#333333"/><circle cx="77" cy="513.8" r="3.1" fill="#333333"/><circle cx="77" cy="516.2" r="3.1" fill="#333333"/><circle cx="77" cy="525.2" r="3.1" fill="#333333"/><circle cx="77" cy="527.5" r="3.1" fill="#333333"/><circle cx="77" cy="530" r="3.1" fill="#333333"/><circle cx="77" cy="532.9" r="3.1" fill="#333333"/><circle cx="77" cy="585.6" r="2.55" fill="#FF0000"/><line x1="116.1" y1="528.4" x2="116.1" y2="581.2" stroke="#333333" stroke-width="1.4"/><line x1="116.1" y1="622" x2="116.1" y2="648.4" stroke="#333333" stroke-width="1.4"/><rect x="101.44" y="581.2" width="29.33" height="40.8" fill="#EEDC82" stroke="#333333" stroke-width="1.3"/><line x1="101.44" y1="601.6" x2="130.76" y2="601.6" stroke="#333333" stroke-width="2.8"/><circle cx="116.1" cy="599.6" r="2.55" fill="#FF0000"/><line x1="155.2" y1="535" x2="155.2" y2="579" stroke="#333333" stroke-width="1.4"/><line x1="155.2" y1="620" x2="155.2" y2="654" stroke="#333333" stroke-width="1.4"/><rect x="140.54" y="579" width="29.33" height="41" fill="#EEDC82" stroke="#333333" stroke-width="1.3"/><line x1="140.54" y1="601.4" x2="169.86" y2="601.4" stroke="#333333" stroke-width="2.8"/><circle cx="155.2" cy="600" r="2.55" fill="#FF0000"/><line x1="194.3" y1="563" x2="194.3" y2="591.6" stroke="#333333" stroke-width="1.4"/><line x1="194.3" y1="611.4" x2="194.3" y2="631" stroke="#333333" stroke-width="1.4"/><rect x="179.64" y="591.6" width="29.33" height="19.8" fill="#EEDC82" stroke="#333333" stroke-width="1.3"/><line x1="179.64" y1="603.5" x2="208.96" y2="603.5" stroke="#333333" stroke-width="2.8"/><circle cx="194.3" cy="546.6" r="3.1" fill="#333333"/><circle cx="194.3" cy="547.6" r="3.1" fill="#333333"/><circle cx="194.3" cy="553.6" r="3.1" fill="#333333"/><circle cx="194.3" cy="556" r="3.1" fill="#333333"/><circle cx="194.3" cy="558.5" r="3.1" fill="#333333"/><circle cx="194.3" cy="561" r="3.1" fill="#333333"/><circle cx="194.3" cy="562.9" r="3.1" fill="#333333"/><circle cx="194.3" cy="598.6" r="2.55" fill="#FF0000"/><line x1="233.4" y1="558.6" x2="233.4" y2="592.4" stroke="#333333" stroke-width="1.4"/><line x1="233.4" y1="615" x2="233.4" y2="636.6" stroke="#333333" stroke-width="1.4"/><rect x="218.74" y="592.4" width="29.33" height="22.6" fill="#EEDC82" stroke="#333333" stroke-width="1.3"/><line x1="218.74" y1="601.6" x2="248.06" y2="601.6" stroke="#333333" stroke-width="2.8"/><circle cx="233.4" cy="553.2" r="3.1" fill="#333333"/><circle cx="233.4" cy="558.6" r="3.1" fill="#333333"/><circle cx="233.4" cy="602.5" r="2.55" fill="#FF0000"/><line x1="272.5" y1="569" x2="272.5" y2="595.4" stroke="#333333" stroke-width="1.4"/><line x1="272.5" y1="611.4" x2="272.5" y2="636.1" stroke="#333333" stroke-width="1.4"/><rect x="257.84" y="595.4" width="29.33" height="16" fill="#EEDC82" stroke="#333333" stroke-width="1.3"/><line x1="257.84" y1="603" x2="287.16" y2="603" stroke="#333333" stroke-width="2.8"/><circle cx="272.5" cy="562.4" r="3.1" fill="#333333"/><circle cx="272.5" cy="565" r="3.1" fill="#333333"/><circle cx="272.5" cy="567" r="3.1" fill="#333333"/><circle cx="272.5" cy="569" r="3.1" fill="#333333"/><circle cx="272.5" cy="636.1" r="3.1" fill="#333333"/><circle cx="272.5" cy="638.5" r="3.1" fill="#333333"/><circle cx="272.5" cy="641" r="3.1" fill="#333333"/><circle cx="272.5" cy="643.5" r="3.1" fill="#333333"/><circle cx="272.5" cy="645.9" r="3.1" fill="#333333"/><circle cx="272.5" cy="603" r="2.55" fill="#FF0000"/><line x1="311.6" y1="568" x2="311.6" y2="590.4" stroke="#333333" stroke-width="1.4"/><line x1="311.6" y1="619" x2="311.6" y2="640" stroke="#333333" stroke-width="1.4"/><rect x="296.94" y="590.4" width="29.33" height="28.6" fill="#EEDC82" stroke="#333333" stroke-width="1.3"/><line x1="296.94" y1="605.4" x2="326.26" y2="605.4" stroke="#333333" stroke-width="2.8"/><circle cx="311.6" cy="605" r="2.55" fill="#FF0000"/><path d="M53.8 492V667.5H335" fill="none" stroke="#000000" stroke-width="1.4" stroke-linejoin="round" stroke-linecap="butt"/><line x1="50.3" y1="659.7" x2="53.8" y2="659.7" stroke="#1a1a1a" stroke-width="1.45"/><text x="47.2" y="662.58" font-size="8.15" fill="#4D4D4D" text-anchor="end">0</text><line x1="50.3" y1="627.47" x2="53.8" y2="627.47" stroke="#1a1a1a" stroke-width="1.45"/><text x="47.2" y="630.35" font-size="8.15" fill="#4D4D4D" text-anchor="end">50</text><line x1="50.3" y1="602.39" x2="53.8" y2="602.39" stroke="#1a1a1a" stroke-width="1.45"/><text x="47.2" y="605.26" font-size="8.15" fill="#4D4D4D" text-anchor="end">500</text><line x1="50.3" y1="578.65" x2="53.8" y2="578.65" stroke="#1a1a1a" stroke-width="1.45"/><text x="47.2" y="581.52" font-size="8.15" fill="#4D4D4D" text-anchor="end">2,000</text><line x1="50.3" y1="557.78" x2="53.8" y2="557.78" stroke="#1a1a1a" stroke-width="1.45"/><text x="47.2" y="560.66" font-size="8.15" fill="#4D4D4D" text-anchor="end">5,000</text><line x1="50.3" y1="538.5" x2="53.8" y2="538.5" stroke="#1a1a1a" stroke-width="1.45"/><text x="47.2" y="541.38" font-size="8.15" fill="#4D4D4D" text-anchor="end">10,000</text><line x1="50.3" y1="519.31" x2="53.8" y2="519.31" stroke="#1a1a1a" stroke-width="1.45"/><text x="47.2" y="522.19" font-size="8.15" fill="#4D4D4D" text-anchor="end">18,000</text><line x1="50.3" y1="500.19" x2="53.8" y2="500.19" stroke="#1a1a1a" stroke-width="1.45"/><text x="47.2" y="503.07" font-size="8.15" fill="#4D4D4D" text-anchor="end">30,000</text><line x1="77" y1="667.5" x2="77" y2="671" stroke="#1a1a1a" stroke-width="1.45"/><line x1="116.1" y1="667.5" x2="116.1" y2="671" stroke="#1a1a1a" stroke-width="1.45"/><line x1="155.2" y1="667.5" x2="155.2" y2="671" stroke="#1a1a1a" stroke-width="1.45"/><line x1="194.3" y1="667.5" x2="194.3" y2="671" stroke="#1a1a1a" stroke-width="1.45"/><line x1="233.4" y1="667.5" x2="233.4" y2="671" stroke="#1a1a1a" stroke-width="1.45"/><line x1="272.5" y1="667.5" x2="272.5" y2="671" stroke="#1a1a1a" stroke-width="1.45"/><line x1="311.6" y1="667.5" x2="311.6" y2="671" stroke="#1a1a1a" stroke-width="1.45"/><text transform="translate(82.4 680.4) rotate(-45)" font-size="10.95" fill="#4D4D4D" text-anchor="end">Mediterranean</text><text transform="translate(121.5 680.4) rotate(-45)" font-size="10.95" fill="#4D4D4D" text-anchor="end">Tropical Indo Pacific</text><text transform="translate(160.6 680.4) rotate(-45)" font-size="10.95" fill="#4D4D4D" text-anchor="end">Tropical Atlantic</text><text transform="translate(199.7 680.4) rotate(-45)" font-size="10.95" fill="#4D4D4D" text-anchor="end">Temperate Southern</text><text transform="translate(238.8 680.4) rotate(-45)" font-size="10.95" fill="#4D4D4D" text-anchor="end">Temperate North Pacific</text><text transform="translate(277.9 680.4) rotate(-45)" font-size="10.95" fill="#4D4D4D" text-anchor="end">Temperate North Atlantic East</text><text transform="translate(317 680.4) rotate(-45)" font-size="10.95" fill="#4D4D4D" text-anchor="end">Temperate North Atlantic West</text><text x="77" y="500.3" font-size="9.6" fill="#1A1A1A" text-anchor="middle">a</text><text x="116.1" y="500.3" font-size="9.6" fill="#1A1A1A" text-anchor="middle">bc</text><text x="155.2" y="500.3" font-size="9.6" fill="#1A1A1A" text-anchor="middle">c</text><text x="194.3" y="500.3" font-size="9.6" fill="#1A1A1A" text-anchor="middle">b</text><text x="233.4" y="500.3" font-size="9.6" fill="#1A1A1A" text-anchor="middle">bc</text><text x="272.5" y="500.3" font-size="9.6" fill="#1A1A1A" text-anchor="middle">bc</text><text x="311.6" y="500.3" font-size="9.6" fill="#1A1A1A" text-anchor="middle">c</text><text x="78.2" y="662.9" font-size="8.2" fill="#1A1A1A" text-anchor="middle">336</text><text x="117.3" y="662.9" font-size="8.2" fill="#1A1A1A" text-anchor="middle">629</text><text x="156.4" y="662.9" font-size="8.2" fill="#1A1A1A" text-anchor="middle">443</text><text x="195.5" y="662.9" font-size="8.2" fill="#1A1A1A" text-anchor="middle">243</text><text x="234.6" y="662.9" font-size="8.2" fill="#1A1A1A" text-anchor="middle">467</text><text x="273.7" y="662.9" font-size="8.2" fill="#1A1A1A" text-anchor="middle">369</text><text x="312.8" y="662.9" font-size="8.2" fill="#1A1A1A" text-anchor="middle">184</text><text transform="translate(11.8 579.8) rotate(-90)" font-size="10.9" fill="#000" text-anchor="middle">Total biomass carbon (kg C ha<tspan font-size="8.1" dy="-5.9">−1</tspan><tspan dy="5.9">)</tspan></text><text x="0" y="482.4" font-size="12.5" font-weight="bold" fill="#000">e</text><line x1="427" y1="553" x2="427" y2="577" stroke="#333333" stroke-width="1.4"/><line x1="427" y1="600" x2="427" y2="628.6" stroke="#333333" stroke-width="1.4"/><rect x="412.35" y="577" width="29.3" height="23" fill="#EEDC82" stroke="#333333" stroke-width="1.3"/><line x1="412.35" y1="588.4" x2="441.65" y2="588.4" stroke="#333333" stroke-width="2.8"/><circle cx="427" cy="643.6" r="3.1" fill="#333333"/><circle cx="427" cy="646" r="3.1" fill="#333333"/><circle cx="427" cy="591.6" r="2.55" fill="#FF0000"/><line x1="466.07" y1="546.4" x2="466.07" y2="565.4" stroke="#333333" stroke-width="1.4"/><line x1="466.07" y1="580.8" x2="466.07" y2="602" stroke="#333333" stroke-width="1.4"/><rect x="451.42" y="565.4" width="29.3" height="15.4" fill="#EEDC82" stroke="#333333" stroke-width="1.3"/><line x1="451.42" y1="574" x2="480.72" y2="574" stroke="#333333" stroke-width="2.8"/><circle cx="466.07" cy="604.5" r="3.1" fill="#333333"/><circle cx="466.07" cy="617" r="3.1" fill="#333333"/><circle cx="466.07" cy="620" r="3.1" fill="#333333"/><circle cx="466.07" cy="623" r="3.1" fill="#333333"/><circle cx="466.07" cy="626" r="3.1" fill="#333333"/><circle cx="466.07" cy="628.5" r="3.1" fill="#333333"/><circle cx="466.07" cy="630.9" r="3.1" fill="#333333"/><circle cx="466.07" cy="576.4" r="2.55" fill="#FF0000"/><line x1="505.14" y1="562.4" x2="505.14" y2="577" stroke="#333333" stroke-width="1.4"/><line x1="505.14" y1="593.4" x2="505.14" y2="607" stroke="#333333" stroke-width="1.4"/><rect x="490.49" y="577" width="29.3" height="16.4" fill="#EEDC82" stroke="#333333" stroke-width="1.3"/><line x1="490.49" y1="587.6" x2="519.79" y2="587.6" stroke="#333333" stroke-width="2.8"/><circle cx="505.14" cy="586" r="2.55" fill="#FF0000"/><line x1="544.21" y1="534.4" x2="544.21" y2="540.4" stroke="#333333" stroke-width="1.4"/><line x1="544.21" y1="564" x2="544.21" y2="590.6" stroke="#333333" stroke-width="1.4"/><rect x="529.56" y="540.4" width="29.3" height="23.6" fill="#EEDC82" stroke="#333333" stroke-width="1.3"/><line x1="529.56" y1="551.4" x2="558.86" y2="551.4" stroke="#333333" stroke-width="2.8"/><circle cx="544.21" cy="554.4" r="2.55" fill="#FF0000"/><line x1="583.28" y1="503.4" x2="583.28" y2="531" stroke="#333333" stroke-width="1.4"/><line x1="583.28" y1="583" x2="583.28" y2="619.4" stroke="#333333" stroke-width="1.4"/><rect x="568.63" y="531" width="29.3" height="52" fill="#EEDC82" stroke="#333333" stroke-width="1.3"/><line x1="568.63" y1="566.4" x2="597.93" y2="566.4" stroke="#333333" stroke-width="2.8"/><circle cx="583.28" cy="559" r="2.55" fill="#FF0000"/><line x1="622.35" y1="521.6" x2="622.35" y2="537" stroke="#333333" stroke-width="1.4"/><line x1="622.35" y1="549.4" x2="622.35" y2="563.4" stroke="#333333" stroke-width="1.4"/><rect x="607.7" y="537" width="29.3" height="12.4" fill="#EEDC82" stroke="#333333" stroke-width="1.3"/><line x1="607.7" y1="546.4" x2="637" y2="546.4" stroke="#333333" stroke-width="2.8"/><circle cx="622.35" cy="583.4" r="3.1" fill="#333333"/><circle cx="622.35" cy="545" r="2.55" fill="#FF0000"/><line x1="661.42" y1="562" x2="661.42" y2="565" stroke="#333333" stroke-width="1.4"/><line x1="661.42" y1="593" x2="661.42" y2="605.6" stroke="#333333" stroke-width="1.4"/><rect x="646.77" y="565" width="29.3" height="28" fill="#EEDC82" stroke="#333333" stroke-width="1.3"/><line x1="646.77" y1="574.2" x2="676.07" y2="574.2" stroke="#333333" stroke-width="2.8"/><circle cx="661.42" cy="579.6" r="2.55" fill="#FF0000"/><path d="M403.6 492.6V667.6H685" fill="none" stroke="#000000" stroke-width="1.4" stroke-linejoin="round" stroke-linecap="butt"/><line x1="400.1" y1="660" x2="403.6" y2="660" stroke="#1a1a1a" stroke-width="1.45"/><text x="397" y="662.88" font-size="8.15" fill="#4D4D4D" text-anchor="end">0</text><line x1="400.1" y1="632.29" x2="403.6" y2="632.29" stroke="#1a1a1a" stroke-width="1.45"/><text x="397" y="635.17" font-size="8.15" fill="#4D4D4D" text-anchor="end">50</text><line x1="400.1" y1="610.73" x2="403.6" y2="610.73" stroke="#1a1a1a" stroke-width="1.45"/><text x="397" y="613.6" font-size="8.15" fill="#4D4D4D" text-anchor="end">500</text><line x1="400.1" y1="590.32" x2="403.6" y2="590.32" stroke="#1a1a1a" stroke-width="1.45"/><text x="397" y="593.19" font-size="8.15" fill="#4D4D4D" text-anchor="end">2,000</text><line x1="400.1" y1="572.38" x2="403.6" y2="572.38" stroke="#1a1a1a" stroke-width="1.45"/><text x="397" y="575.25" font-size="8.15" fill="#4D4D4D" text-anchor="end">5,000</text><line x1="400.1" y1="555.8" x2="403.6" y2="555.8" stroke="#1a1a1a" stroke-width="1.45"/><text x="397" y="558.68" font-size="8.15" fill="#4D4D4D" text-anchor="end">10,000</text><line x1="400.1" y1="536.08" x2="403.6" y2="536.08" stroke="#1a1a1a" stroke-width="1.45"/><text x="397" y="538.96" font-size="8.15" fill="#4D4D4D" text-anchor="end">20,000</text><line x1="400.1" y1="517.48" x2="403.6" y2="517.48" stroke="#1a1a1a" stroke-width="1.45"/><text x="397" y="520.35" font-size="8.15" fill="#4D4D4D" text-anchor="end">35,000</text><line x1="400.1" y1="500.43" x2="403.6" y2="500.43" stroke="#1a1a1a" stroke-width="1.45"/><text x="397" y="503.3" font-size="8.15" fill="#4D4D4D" text-anchor="end">55,000</text><line x1="427" y1="667.6" x2="427" y2="671.1" stroke="#1a1a1a" stroke-width="1.45"/><line x1="466.07" y1="667.6" x2="466.07" y2="671.1" stroke="#1a1a1a" stroke-width="1.45"/><line x1="505.14" y1="667.6" x2="505.14" y2="671.1" stroke="#1a1a1a" stroke-width="1.45"/><line x1="544.21" y1="667.6" x2="544.21" y2="671.1" stroke="#1a1a1a" stroke-width="1.45"/><line x1="583.28" y1="667.6" x2="583.28" y2="671.1" stroke="#1a1a1a" stroke-width="1.45"/><line x1="622.35" y1="667.6" x2="622.35" y2="671.1" stroke="#1a1a1a" stroke-width="1.45"/><line x1="661.42" y1="667.6" x2="661.42" y2="671.1" stroke="#1a1a1a" stroke-width="1.45"/><text transform="translate(432.4 680.5) rotate(-45)" font-size="10.95" fill="#4D4D4D" text-anchor="end">Mediterranean</text><text transform="translate(471.47 680.5) rotate(-45)" font-size="10.95" fill="#4D4D4D" text-anchor="end">Tropical Indo Pacific</text><text transform="translate(510.54 680.5) rotate(-45)" font-size="10.95" fill="#4D4D4D" text-anchor="end">Tropical Atlantic</text><text transform="translate(549.61 680.5) rotate(-45)" font-size="10.95" fill="#4D4D4D" text-anchor="end">Temperate Southern</text><text transform="translate(588.68 680.5) rotate(-45)" font-size="10.95" fill="#4D4D4D" text-anchor="end">Temperate North Pacific</text><text transform="translate(627.75 680.5) rotate(-45)" font-size="10.95" fill="#4D4D4D" text-anchor="end">Temperate North Atlantic East</text><text transform="translate(666.82 680.5) rotate(-45)" font-size="10.95" fill="#4D4D4D" text-anchor="end">Temperate North Atlantic West</text><text x="427" y="500.3" font-size="9.6" fill="#1A1A1A" text-anchor="middle">d</text><text x="466.07" y="500.3" font-size="9.6" fill="#1A1A1A" text-anchor="middle">c</text><text x="505.14" y="500.3" font-size="9.6" fill="#1A1A1A" text-anchor="middle">cd</text><text x="544.21" y="500.3" font-size="9.6" fill="#1A1A1A" text-anchor="middle">ab</text><text x="583.28" y="500.3" font-size="9.6" fill="#1A1A1A" text-anchor="middle">ab</text><text x="622.35" y="500.3" font-size="9.6" fill="#1A1A1A" text-anchor="middle">a</text><text x="661.42" y="500.3" font-size="9.6" fill="#1A1A1A" text-anchor="middle">bcd</text><text x="428.2" y="662.9" font-size="8.2" fill="#1A1A1A" text-anchor="middle">41</text><text x="467.27" y="662.9" font-size="8.2" fill="#1A1A1A" text-anchor="middle">88</text><text x="506.34" y="662.9" font-size="8.2" fill="#1A1A1A" text-anchor="middle">34</text><text x="545.41" y="662.9" font-size="8.2" fill="#1A1A1A" text-anchor="middle">18</text><text x="584.48" y="662.9" font-size="8.2" fill="#1A1A1A" text-anchor="middle">34</text><text x="623.55" y="662.9" font-size="8.2" fill="#1A1A1A" text-anchor="middle">19</text><text x="662.62" y="662.9" font-size="8.2" fill="#1A1A1A" text-anchor="middle">6</text><text transform="translate(361.5 579.8) rotate(-90)" font-size="10.9" fill="#000" text-anchor="middle">Total NPP (kg C ha<tspan font-size="8.1" dy="-5.9">−1</tspan><tspan dy="5.9"> yr</tspan><tspan font-size="8.1" dy="-5.9">−1</tspan><tspan dy="5.9">)</tspan></text><text x="348" y="482.4" font-size="12.5" font-weight="bold" fill="#000">f</text></svg></body></html>
